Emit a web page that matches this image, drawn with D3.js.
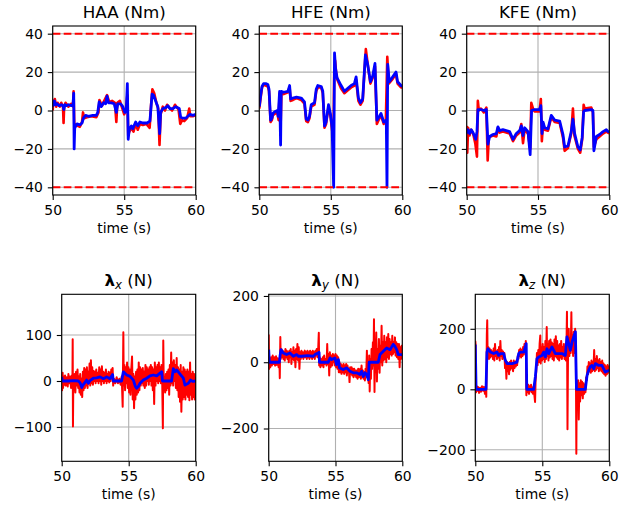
<!DOCTYPE html>
<html><head><meta charset="utf-8">
<script src="https://cdn.jsdelivr.net/npm/d3@7"></script>
<style>body{margin:0;background:#fff} svg text{font-family:"DejaVu Sans",sans-serif;fill:#000}</style>
</head><body><svg id="c" width="638" height="506"></svg>
<script>
// ---------- data ----------
const xTicks = [50, 55, 60];
const torqueTicks = [40, 20, 0, -20, -40];
const torqueLimits = [40, -40];

const haaRed = [[50.00,0],[50.04,5],[50.1,3],[50.15,6],[50.25,2],[50.35,4],[50.5,2],[50.6,4],[50.72,2],[50.76,-6.5],[50.8,2],[50.9,4],[51.1,2],[51.3,3.5],[51.42,2],[51.46,10],[51.52,-11],[51.58,-7],[51.75,-8],[51.9,-8.5],[52.05,-6],[52.12,-1],[52.2,-4],[52.4,-3.5],[52.7,-3],[53.05,-3.5],[53.2,-1],[53.27,5.5],[53.45,2.5],[53.6,5],[53.8,8],[53.95,4.5],[54.15,5],[54.35,4],[54.45,-6],[54.52,4],[54.7,5],[54.85,1.5],[55.0,-2],[55.12,1],[55.22,8],[55.28,-13],[55.36,-11],[55.5,-9],[55.65,-11],[55.8,-7],[55.95,-10],[56.1,-7],[56.3,-7.5],[56.55,-7],[56.78,-9],[56.88,3],[56.97,11],[57.1,9],[57.25,4],[57.38,1],[57.47,-18],[57.55,-2],[57.7,2],[57.85,0],[58.0,3],[58.15,1.5],[58.35,0],[58.55,3],[58.8,0.5],[58.92,-7],[59.05,-5],[59.2,-5.5],[59.4,-4],[59.55,1],[59.62,-3],[59.8,-3],[60.0,-2.5]];
const haaBlue = [[50.00,2],[50.05,4],[50.12,5],[50.2,3],[50.3,3.5],[50.45,2.5],[50.6,3],[50.72,2.5],[50.78,0.5],[50.85,3],[50.95,2.5],[51.1,3],[51.3,2.5],[51.42,3],[51.47,9],[51.5,-20],[51.54,-9],[51.7,-7],[51.9,-7.5],[52.05,-6.5],[52.15,-4],[52.3,-2.5],[52.5,-3],[52.8,-2.5],[53.05,-2.5],[53.15,-1],[53.25,4.5],[53.4,2],[53.55,4],[53.7,3.5],[53.8,7.5],[53.9,4],[54.1,4],[54.3,3.5],[54.45,-1],[54.55,3.5],[54.75,3.5],[54.9,2],[55.05,-1],[55.15,1],[55.22,14],[55.28,-15],[55.35,-10],[55.5,-8],[55.6,-9.5],[55.8,-6],[55.95,-8],[56.1,-6],[56.3,-6.5],[56.6,-6.5],[56.8,-5.5],[56.95,8.5],[57.05,8],[57.2,5],[57.35,2],[57.48,-12],[57.55,-1],[57.7,1],[57.9,1.5],[58.05,2.5],[58.2,1],[58.4,1],[58.6,2],[58.85,1],[58.95,-3.5],[59.1,-4],[59.3,-4],[59.45,-3],[59.6,-2],[59.8,-2.5],[60.0,-2]];

const hfeRed = [[50.0,1],[50.1,7],[50.19,12],[50.3,13.5],[50.45,13],[50.6,12.5],[50.68,10],[50.79,-6],[50.88,-5],[50.95,-2.5],[51.12,-1.5],[51.26,-1],[51.35,-5],[51.42,9],[51.49,-8],[51.55,9],[51.7,8.5],[52.0,9.5],[52.12,12],[52.19,5],[52.35,5.5],[52.6,6.5],[52.93,5.5],[53.16,3.5],[53.28,-5.5],[53.4,-6],[53.51,-4],[53.63,2],[53.86,3],[53.98,10],[54.09,12],[54.33,12],[54.44,9],[54.56,-9],[54.67,-7],[54.84,2],[54.98,-3],[55.09,-10],[55.18,-15],[55.24,20],[55.3,26],[55.38,19],[55.46,16],[55.72,11.5],[55.95,9],[56.19,10.5],[56.42,12],[56.65,13],[56.77,16],[56.93,5],[57.07,3],[57.23,5],[57.45,32],[57.6,23],[57.77,14],[57.93,17],[58.09,23],[58.22,-7],[58.4,-4],[58.51,-2.5],[58.7,-7],[58.85,-5],[58.95,28],[59.05,14],[59.33,16.5],[59.56,19],[59.67,14],[59.91,12],[60.0,12]];
const hfeBlue = [[50.0,2],[50.1,8],[50.19,12.5],[50.3,14],[50.45,14],[50.6,13.5],[50.68,11],[50.79,-5],[50.88,-4],[50.95,-1.5],[51.12,-0.5],[51.26,0],[51.32,-3],[51.42,10],[51.49,-18],[51.53,10],[51.7,9.5],[52.0,10],[52.12,13],[52.19,6],[52.35,6.5],[52.6,7],[52.93,6.5],[53.16,4.5],[53.28,-4.5],[53.4,-5],[53.51,-3],[53.63,3],[53.86,4],[53.98,11],[54.09,13],[54.33,12.5],[54.44,10],[54.56,-8],[54.67,-6],[54.84,3],[54.98,-2],[55.09,-9],[55.2,-40],[55.26,30],[55.33,22],[55.44,17],[55.72,13],[55.95,10],[56.19,11.5],[56.42,13],[56.65,14],[56.77,17.5],[56.93,6.5],[57.07,4],[57.23,6],[57.42,29],[57.58,24],[57.77,15],[57.93,18],[58.09,24.5],[58.22,-5],[58.4,-3],[58.51,-1.5],[58.7,-6],[58.88,-5],[58.93,-40],[58.98,24],[59.09,15],[59.33,17.5],[59.56,20],[59.67,15],[59.91,13],[60.0,12.5]];

const kfeRed = [[50.0,-8],[50.04,-22],[50.1,-9],[50.2,-13],[50.3,-10],[50.45,-12],[50.6,-17],[50.72,-24],[50.78,5],[50.85,0],[51.0,1],[51.2,-1],[51.38,1.5],[51.47,-26],[51.55,-14],[51.84,-13],[52.08,-13.5],[52.19,-9],[52.31,-11.5],[52.54,-11],[53.01,-12],[53.25,-16],[53.48,-13],[53.71,-11.5],[53.83,-7],[53.95,-17],[54.06,-10],[54.3,-12],[54.45,-20],[54.53,4],[54.65,1],[54.76,-0.5],[55.11,-0.5],[55.2,6],[55.27,-16],[55.35,-7],[55.47,-10],[55.7,-10.5],[55.93,-3.5],[56.17,-6],[56.52,-6.5],[56.75,-14],[56.87,-21],[57.1,-19.5],[57.33,-12],[57.45,1],[57.55,-13],[57.8,-20],[57.96,-22],[58.1,-15],[58.2,3],[58.27,1],[58.74,1.5],[58.85,-1],[58.92,-19],[59.09,-15],[59.32,-13.5],[59.56,-12],[59.79,-11],[59.91,-11.5],[60.0,-12]];
const kfeBlue = [[50.0,-12],[50.09,-10],[50.21,-12],[50.32,-10],[50.44,-11.5],[50.63,-15],[50.72,-11],[50.79,0.5],[51.0,0.5],[51.2,0],[51.38,0.5],[51.49,-17.5],[51.61,-13.5],[51.84,-12.5],[52.08,-12],[52.19,-8.5],[52.31,-10.5],[52.54,-10],[53.01,-11],[53.25,-15],[53.48,-12],[53.71,-10.5],[53.83,-8],[53.95,-13],[54.06,-9],[54.3,-11],[54.45,-23],[54.55,0],[54.76,0.5],[55.11,0.5],[55.2,2.5],[55.28,-12],[55.35,-6],[55.47,-9],[55.7,-9.5],[55.93,-2.5],[56.17,-5],[56.52,-5.5],[56.75,-12.5],[56.87,-19],[57.1,-18.5],[57.33,-11],[57.45,-4.5],[57.57,-12],[57.8,-19],[57.96,-20.5],[58.1,-14],[58.2,-0.5],[58.27,0],[58.74,0.5],[58.85,0],[58.92,-21],[59.09,-13.5],[59.32,-12.5],[59.56,-11],[59.79,-10],[59.91,-11],[60.0,-11]];

const lxTicks = [100, 0, -100];
const lxRed = [[50.00,15],[50.03,-20],[50.07,18],[50.1,-15],[50.15,10],[50.2,-8],[50.25,12],[50.3,-10],[50.38,8],[50.45,-12],[50.5,15],[50.55,-5],[50.62,10],[50.7,-15],[50.75,12],[50.8,-5],[50.82,91],[50.84,-99],[50.87,10],[50.92,-20],[50.97,15],[51.02,-25],[51.07,20],[51.12,-10],[51.18,25],[51.23,-15],[51.28,10],[51.33,-25],[51.38,15],[51.43,-30],[51.48,5],[51.53,-35],[51.58,20],[51.63,-20],[51.68,28],[51.73,-15],[51.78,25],[51.83,-10],[51.88,30],[51.93,-15],[51.98,20],[52.03,-5],[52.08,38],[52.13,-10],[52.18,45],[52.23,-5],[52.28,30],[52.33,-8],[52.38,22],[52.43,0],[52.48,20],[52.53,-5],[52.58,25],[52.63,0],[52.7,18],[52.75,-5],[52.8,30],[52.85,0],[52.9,25],[52.95,-8],[53.0,32],[53.05,0],[53.1,20],[53.15,-5],[53.2,18],[53.25,0],[53.3,25],[53.35,-5],[53.4,15],[53.45,0],[53.5,20],[53.55,-3],[53.6,18],[53.65,0],[53.7,25],[53.75,5],[53.8,28],[53.84,-10],[53.9,5],[54.0,-5],[54.1,8],[54.2,-5],[54.3,5],[54.4,-8],[54.48,10],[54.55,-56],[54.6,106],[54.63,-10],[54.68,35],[54.73,-20],[54.78,30],[54.83,-5],[54.88,40],[54.93,-15],[54.98,30],[55.03,-25],[55.08,25],[55.13,-30],[55.18,20],[55.25,53],[55.3,-40],[55.35,15],[55.4,-59],[55.45,10],[55.5,-40],[55.55,20],[55.6,-30],[55.65,25],[55.7,-25],[55.75,40],[55.8,-20],[55.85,30],[55.9,-10],[55.95,25],[56.0,-5],[56.05,28],[56.1,-10],[56.15,20],[56.2,-15],[56.25,35],[56.3,-10],[56.35,30],[56.4,0],[56.45,25],[56.5,-8],[56.55,30],[56.6,0],[56.65,35],[56.7,-10],[56.75,30],[56.8,-20],[56.85,25],[56.9,-50],[56.95,40],[57.0,-10],[57.05,30],[57.1,0],[57.15,35],[57.2,-5],[57.25,40],[57.3,0],[57.35,30],[57.4,-5],[57.45,35],[57.5,0],[57.55,-103],[57.58,88],[57.62,-20],[57.67,10],[57.72,-25],[57.77,15],[57.82,-20],[57.87,20],[57.92,-15],[57.97,25],[58.02,-30],[58.07,35],[58.12,-10],[58.17,62],[58.22,-5],[58.27,40],[58.32,-10],[58.37,45],[58.42,0],[58.47,35],[58.52,-15],[58.58,50],[58.63,-20],[58.68,30],[58.73,-35],[58.78,25],[58.83,-45],[58.88,35],[58.93,-67],[58.98,20],[59.03,-40],[59.08,30],[59.13,-35],[59.18,25],[59.23,-40],[59.28,20],[59.33,-30],[59.38,25],[59.43,-35],[59.48,20],[59.53,-42],[59.58,40],[59.63,-30],[59.68,15],[59.73,-40],[59.78,20],[59.83,-35],[59.88,15],[59.93,-40],[60.0,10]];
const lxBlue = [[50.0,9],[50.05,0],[50.5,0],[50.9,1],[51.24,0],[51.37,-4],[51.5,-14],[51.56,-10],[51.74,-3],[51.86,2],[51.99,-5],[52.11,1],[52.36,6],[52.61,7],[52.86,9],[53.11,5],[53.36,9],[53.6,5],[53.8,14],[53.85,0],[54.47,0],[54.6,20],[54.85,13],[55.1,10],[55.35,2],[55.5,-12],[55.59,-16],[55.72,-12],[55.84,-5],[56.09,2],[56.34,6],[56.59,11],[56.84,13],[57.09,11],[57.34,17],[57.46,20],[57.52,0],[58.2,0],[58.33,27],[58.45,20],[58.58,24],[58.83,15],[59.08,6],[59.2,-9],[59.45,-5],[59.62,2],[59.77,-1],[60.0,0]];

const lyTicks = [200, 0, -200];
const lyRed = [[50.0,84],[50.03,-20],[50.07,10],[50.12,-15],[50.18,15],[50.24,-10],[50.3,20],[50.36,-5],[50.42,15],[50.48,-10],[50.55,18],[50.62,-8],[50.68,12],[50.74,-15],[50.8,10],[50.83,-48],[50.87,76],[50.9,10],[50.95,40],[51.0,15],[51.05,35],[51.1,10],[51.15,30],[51.2,5],[51.25,40],[51.3,15],[51.35,35],[51.4,10],[51.45,30],[51.5,0],[51.55,35],[51.6,15],[51.65,40],[51.7,-5],[51.75,30],[51.8,10],[51.85,45],[51.9,5],[51.95,35],[52.0,-15],[52.05,40],[52.1,10],[52.15,55],[52.2,5],[52.25,45],[52.3,-20],[52.35,30],[52.4,10],[52.45,35],[52.5,15],[52.55,30],[52.6,10],[52.7,35],[52.75,15],[52.8,30],[52.85,10],[52.9,35],[52.95,15],[53.0,30],[53.05,10],[53.1,35],[53.15,15],[53.2,30],[53.25,10],[53.3,35],[53.35,15],[53.4,30],[53.45,10],[53.5,35],[53.55,20],[53.6,40],[53.65,15],[53.7,35],[53.75,89],[53.78,-10],[53.82,15],[53.87,-15],[53.92,10],[53.98,-10],[54.05,15],[54.1,-15],[54.15,20],[54.2,-5],[54.27,10],[54.33,-10],[54.38,55],[54.42,-5],[54.48,25],[54.53,-40],[54.58,30],[54.63,-15],[54.7,20],[54.75,-10],[54.8,25],[54.85,0],[54.9,20],[54.95,-10],[55.0,25],[55.05,-15],[55.1,20],[55.15,-20],[55.2,15],[55.25,-30],[55.3,0],[55.35,-30],[55.4,-5],[55.45,-35],[55.5,-10],[55.55,-30],[55.6,-5],[55.65,-35],[55.7,-10],[55.75,-30],[55.8,-5],[55.85,-40],[55.9,-10],[55.95,-30],[56.0,-20],[56.05,-60],[56.1,-15],[56.15,-35],[56.2,-15],[56.25,-40],[56.3,-20],[56.35,-45],[56.4,-20],[56.45,-40],[56.5,-25],[56.55,-45],[56.6,-25],[56.65,-50],[56.7,-20],[56.75,-45],[56.8,-25],[56.85,-20],[56.9,-50],[56.95,-10],[57.0,-45],[57.05,-25],[57.1,-50],[57.15,-30],[57.2,-55],[57.25,-20],[57.3,-40],[57.35,35],[57.38,-45],[57.42,-30],[57.48,-63],[57.52,20],[57.56,-88],[57.6,10],[57.65,-50],[57.7,40],[57.74,-20],[57.8,60],[57.84,-10],[57.88,130],[57.92,-90],[57.96,50],[58.0,-30],[58.05,90],[58.1,-58],[58.15,40],[58.2,-20],[58.25,70],[58.3,-32],[58.35,50],[58.4,0],[58.45,110],[58.5,-10],[58.55,60],[58.6,5],[58.65,80],[58.7,10],[58.75,60],[58.8,0],[58.85,75],[58.9,15],[58.95,85],[59.0,10],[59.05,70],[59.1,25],[59.15,60],[59.2,20],[59.25,80],[59.3,25],[59.35,60],[59.4,30],[59.45,75],[59.5,20],[59.55,60],[59.6,15],[59.65,55],[59.7,10],[59.75,55],[59.8,-15],[59.85,45],[59.9,10],[59.95,50],[60.0,20]];
const lyBlue = [[50.0,38],[50.05,0],[50.8,0],[50.85,20],[50.92,38],[51.09,28],[51.34,23],[51.59,28],[51.84,18],[52.09,23],[52.22,18],[52.47,18],[52.9,20],[53.34,18],[53.46,23],[53.71,28],[53.77,30],[53.8,0],[54.46,0],[54.59,13],[54.71,8],[54.96,13],[55.08,-7],[55.22,8],[55.3,-17],[55.58,-22],[55.83,-17],[56.08,-27],[56.33,-32],[56.58,-32],[56.83,-37],[56.96,-27],[57.08,-43],[57.21,-32],[57.33,-37],[57.46,-53],[57.52,0],[58.2,0],[58.33,23],[58.58,33],[58.83,43],[59.08,38],[59.33,54],[59.45,48],[59.58,38],[59.7,23],[60.0,23]];

const lzTicks = [200, 0, -200];
const lzRed = [[50.0,160],[50.02,150],[50.05,-10],[50.1,10],[50.15,-5],[50.2,8],[50.28,-12],[50.35,5],[50.42,-8],[50.5,10],[50.58,-5],[50.65,8],[50.72,-15],[50.78,5],[50.82,-25],[50.86,180],[50.89,228],[50.92,110],[50.97,140],[51.02,100],[51.07,135],[51.12,105],[51.17,130],[51.22,110],[51.27,125],[51.32,100],[51.37,135],[51.42,95],[51.47,150],[51.52,110],[51.57,125],[51.62,100],[51.67,130],[51.72,105],[51.77,140],[51.82,95],[51.87,160],[51.92,110],[51.97,130],[52.02,100],[52.07,125],[52.12,105],[52.17,120],[52.22,70],[52.27,95],[52.32,35],[52.37,90],[52.42,60],[52.47,85],[52.52,50],[52.57,90],[52.62,65],[52.67,95],[52.72,70],[52.77,85],[52.82,60],[52.87,95],[52.92,70],[52.97,90],[53.02,75],[53.07,95],[53.12,80],[53.17,110],[53.22,100],[53.27,130],[53.32,110],[53.37,135],[53.42,105],[53.47,130],[53.52,110],[53.57,140],[53.62,115],[53.67,150],[53.72,125],[53.77,160],[53.81,-20],[53.86,10],[53.91,-10],[53.96,15],[54.01,-15],[54.06,10],[54.11,-5],[54.16,15],[54.21,-10],[54.26,5],[54.31,-15],[54.36,10],[54.41,-20],[54.46,-42],[54.5,30],[54.55,60],[54.6,120],[54.65,80],[54.7,130],[54.75,90],[54.8,150],[54.85,178],[54.88,85],[54.93,140],[54.98,95],[55.03,150],[55.08,100],[55.13,140],[55.18,90],[55.23,160],[55.28,100],[55.33,206],[55.36,110],[55.41,150],[55.46,95],[55.51,160],[55.56,105],[55.61,165],[55.66,110],[55.71,155],[55.76,100],[55.81,150],[55.86,95],[55.91,165],[55.96,110],[56.01,175],[56.06,105],[56.11,160],[56.16,100],[56.21,145],[56.26,95],[56.31,150],[56.36,105],[56.41,160],[56.46,100],[56.51,140],[56.56,110],[56.61,150],[56.66,100],[56.71,130],[56.76,95],[56.81,160],[56.84,256],[56.88,-132],[56.92,120],[56.97,200],[57.02,110],[57.07,170],[57.12,120],[57.17,255],[57.2,130],[57.25,180],[57.3,110],[57.35,190],[57.4,120],[57.45,200],[57.5,150],[57.54,-213],[57.57,20],[57.62,-30],[57.67,30],[57.72,-100],[57.77,20],[57.82,-40],[57.87,30],[57.92,-20],[57.97,25],[58.02,-30],[58.07,20],[58.12,-15],[58.17,15],[58.22,-10],[58.27,40],[58.32,30],[58.37,75],[58.42,50],[58.47,90],[58.52,60],[58.57,85],[58.62,55],[58.67,95],[58.72,60],[58.77,90],[58.82,65],[58.87,130],[58.92,60],[58.97,100],[59.02,65],[59.07,110],[59.12,70],[59.17,95],[59.22,60],[59.27,100],[59.32,65],[59.37,90],[59.42,60],[59.47,95],[59.52,55],[59.57,85],[59.62,50],[59.67,80],[59.72,45],[59.77,75],[59.82,50],[59.87,80],[59.92,55],[59.97,75],[60.0,60]];
const lzBlue = [[50.0,148],[50.06,0],[50.8,0],[50.87,123],[50.95,134],[51.12,123],[51.37,118],[51.62,123],[51.74,112],[51.87,118],[52.12,118],[52.24,96],[52.37,85],[52.74,85],[52.99,88],[53.11,90],[53.24,118],[53.36,123],[53.61,123],[53.73,140],[53.8,151],[53.84,0],[54.36,0],[54.48,41],[54.6,101],[54.73,107],[54.98,112],[55.1,123],[55.23,107],[55.35,134],[55.48,118],[55.72,140],[55.97,118],[56.22,118],[56.47,118],[56.72,112],[56.84,173],[56.97,151],[57.09,129],[57.22,156],[57.34,173],[57.47,190],[57.55,0],[58.21,0],[58.34,46],[58.46,63],[58.58,74],[58.71,79],[58.83,68],[58.96,85],[59.21,79],[59.45,79],[59.7,57],[60.0,63]];

// ---------- layout ----------
const panels = [
  {title:"HAA (Nm)", red:haaRed, blue:haaBlue, dom:[-44,44], ticks:torqueTicks, lim:true, l:52.7, r:195.7, t:26, b:195, rw:2.6},
  {title:"HFE (Nm)", red:hfeRed, blue:hfeBlue, dom:[-44,44], ticks:torqueTicks, lim:true, l:259.3, r:402.3, t:26, b:195, rw:2.6},
  {title:"KFE (Nm)", red:kfeRed, blue:kfeBlue, dom:[-44,44], ticks:torqueTicks, lim:true, l:466.7, r:609.3, t:26, b:195, rw:2.6},
  {sym:"x", red:lxRed, blue:lxBlue, dom:[-174.6,188.5], ticks:lxTicks, lim:false, l:61.7, r:195.7, t:294.3, b:461.3, rw:2.0},
  {sym:"y", red:lyRed, blue:lyBlue, dom:[-299,205], ticks:lyTicks, lim:false, l:268.7, r:402.3, t:294.3, b:461.3, rw:2.0},
  {sym:"z", red:lzRed, blue:lzBlue, dom:[-238,314], ticks:lzTicks, lim:false, l:475.3, r:609.3, t:294.3, b:461.3, rw:2.0}
];

const svg = d3.select("#c");
svg.append("rect").attr("width",638).attr("height",506).attr("fill","#fff");
const fmt = d => d < 0 ? "\u2212" + Math.abs(d) : String(d);
const FS = 13.9;

panels.forEach((p, i) => {
  const x = d3.scaleLinear([50, 60], [p.l, p.r]);
  const y = d3.scaleLinear(p.dom, [p.b, p.t]);
  const g = svg.append("g");
  const cid = "clip" + i;
  g.append("clipPath").attr("id", cid).append("rect")
    .attr("x", p.l).attr("y", p.t).attr("width", p.r - p.l).attr("height", p.b - p.t);

  // grid
  const grid = g.append("g").attr("stroke", "#b0b0b0").attr("stroke-width", 1.1);
  xTicks.forEach(v => grid.append("line").attr("x1", x(v)).attr("x2", x(v)).attr("y1", p.t).attr("y2", p.b));
  p.ticks.forEach(v => grid.append("line").attr("x1", p.l).attr("x2", p.r).attr("y1", y(v)).attr("y2", y(v)));

  const plot = g.append("g").attr("clip-path", `url(#${cid})`);
  const line = d3.line().x(d => x(d[0])).y(d => y(d[1]));
  plot.append("path").attr("d", line(p.red)).attr("fill", "none").attr("stroke", "#ff0000")
    .attr("stroke-width", p.rw).attr("stroke-linejoin", "round");
  plot.append("path").attr("d", line(p.blue)).attr("fill", "none").attr("stroke", "#0000ff")
    .attr("stroke-width", 2.8).attr("stroke-linejoin", "round");
  if (p.lim) {
    torqueLimits.forEach(v => plot.append("line").attr("x1", p.l).attr("x2", p.r)
      .attr("y1", y(v)).attr("y2", y(v)).attr("stroke", "#ff0000").attr("stroke-width", 2.1)
      .attr("stroke-dasharray", "7.7,3.3"));
  }

  // axes
  const ax = g.append("g").attr("transform", `translate(0,${p.b})`)
    .call(d3.axisBottom(x).tickValues(xTicks).tickFormat(fmt).tickSize(4.9).tickPadding(4.9));
  const ay = g.append("g").attr("transform", `translate(${p.l},0)`)
    .call(d3.axisLeft(y).tickValues(p.ticks).tickFormat(fmt).tickSize(4.9).tickPadding(4.9));
  [ax, ay].forEach(a => {
    a.select(".domain").remove();
    a.attr("font-size", null).attr("font-family", null);
    a.selectAll("line").attr("stroke", "#000").attr("stroke-width", 1.1);
    a.selectAll("text").style("font-size", FS + "px").attr("fill", "#000");
  });

  // spines
  g.append("rect").attr("x", p.l).attr("y", p.t).attr("width", p.r - p.l).attr("height", p.b - p.t)
    .attr("fill", "none").attr("stroke", "#000").attr("stroke-width", 1.1);

  // x label
  g.append("text").attr("x", (p.l + p.r) / 2).attr("y", p.b + 38).attr("text-anchor", "middle")
    .style("font-size", FS + "px").text("time (s)");

  // title
  const tt = g.append("text").attr("x", (p.l + p.r) / 2).attr("y", p.t - 8.5)
    .attr("text-anchor", "middle").style("font-size", "16.7px");
  if (p.title) {
    tt.text(p.title);
  } else {
    tt.append("tspan").attr("font-weight", "bold").text("\u03bb");
    tt.append("tspan").attr("font-style", "italic").style("font-size", "11.7px").attr("dy", 3.5).text(p.sym);
    tt.append("tspan").attr("dy", -3.5).text(" (N)");
  }
});
</script></body></html>
